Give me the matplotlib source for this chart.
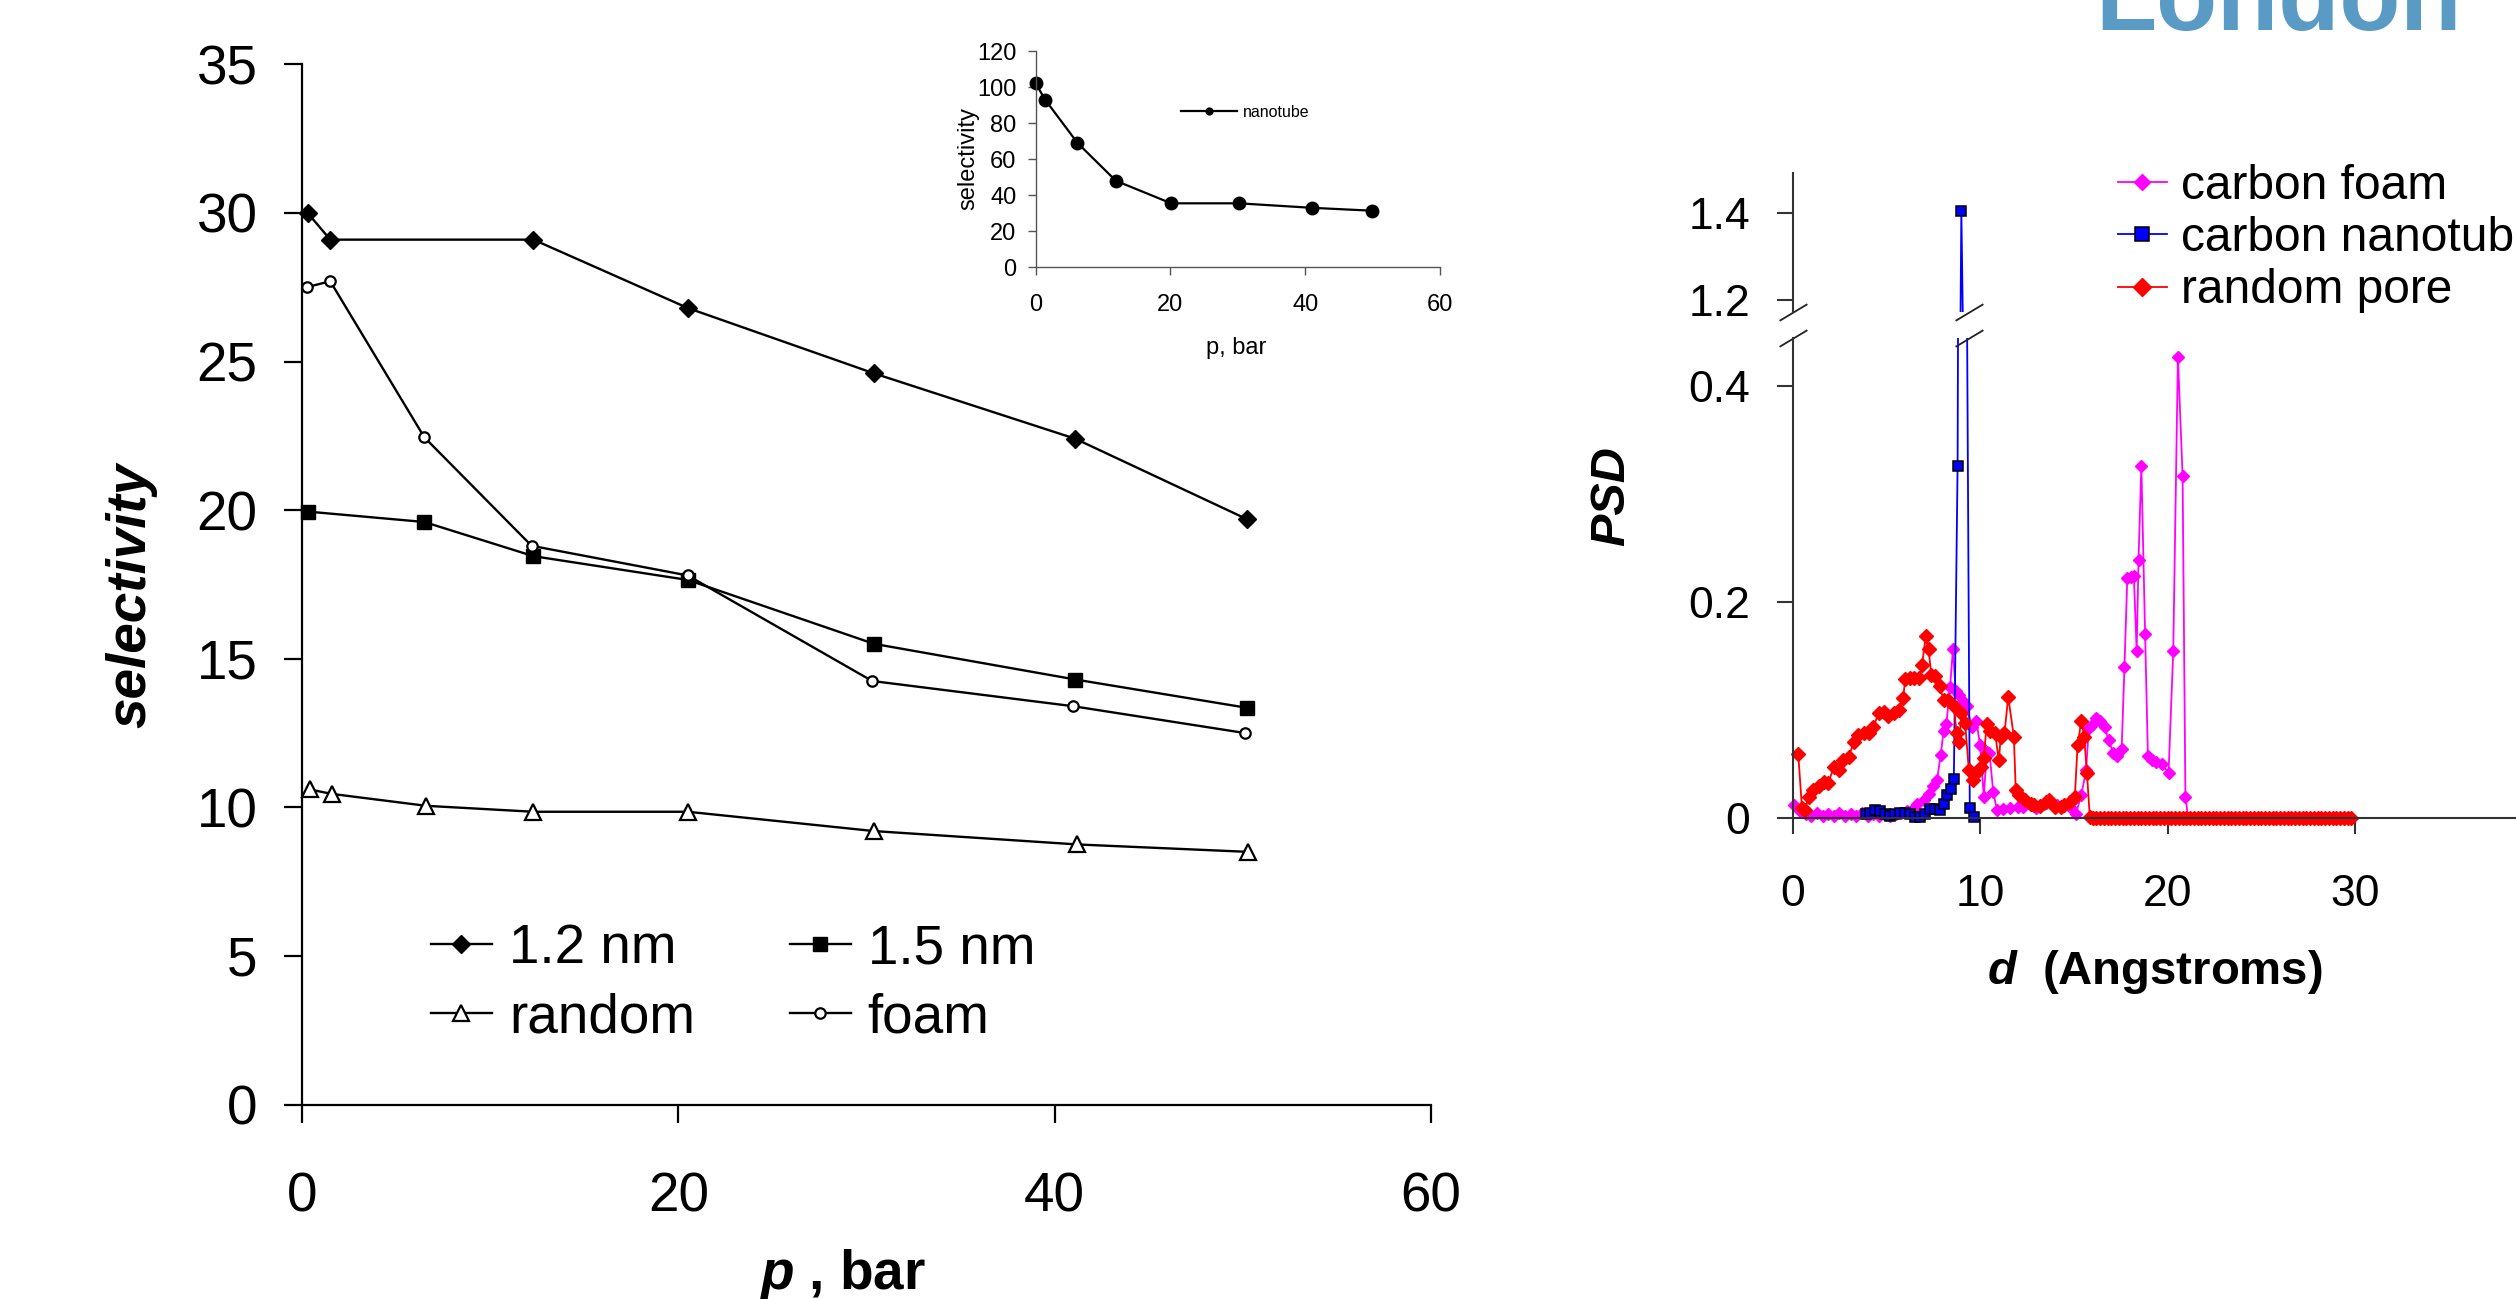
import matplotlib
matplotlib.use('Agg')
import matplotlib.pyplot as plt
from matplotlib.transforms import blended_transform_factory
from matplotlib.patches import Rectangle

plt.rcParams['font.family'] = ['Liberation Sans', 'DejaVu Sans']
plt.rcParams['mathtext.fontset'] = 'custom'
plt.rcParams['mathtext.it'] = 'Liberation Sans:italic:bold'
plt.rcParams['mathtext.rm'] = 'Liberation Sans:bold'
plt.rcParams['mathtext.bf'] = 'Liberation Sans:bold'

# ---------------- data: main selectivity panel ----------------
p_12 = [0.3, 1.5, 12.3, 20.5, 30.4, 41.1, 50.2]
s_12 = [30.0, 29.1, 29.1, 26.8, 24.6, 22.4, 19.7]
p_15 = [0.3, 6.5, 12.3, 20.5, 30.4, 41.1, 50.2]
s_15 = [19.95, 19.6, 18.45, 17.65, 15.5, 14.3, 13.35]
p_rnd = [0.4, 1.6, 6.6, 12.3, 20.5, 30.4, 41.2, 50.3]
s_rnd = [10.6, 10.45, 10.05, 9.85, 9.85, 9.2, 8.75, 8.5]
p_foam = [0.25, 1.5, 6.5, 12.2, 20.5, 30.3, 41.0, 50.1]
s_foam = [27.5, 27.7, 22.45, 18.8, 17.8, 14.25, 13.4, 12.5]
main_labels = ['1.2 nm', '1.5 nm', 'random', 'foam']
main_xticks = [0, 20, 40, 60]
main_yticks = [0, 5, 10, 15, 20, 25, 30, 35]

# ---------------- data: inset (nanotube) ----------------
p_nt = [0.0, 1.4, 6.2, 11.9, 20.1, 30.1, 41.0, 49.9]
s_nt = [102, 93, 69, 48, 35.5, 35.5, 33, 31.4]
inset_xticks = [0, 20, 40, 60]
inset_yticks = [0, 20, 40, 60, 80, 100, 120]

# ---------------- data: PSD panel ----------------
foam_d = [0.1, 0.4, 0.7, 1.0, 1.3, 1.6, 1.9, 2.2, 2.5, 2.8,
          3.1, 3.4, 3.7, 4.0, 4.3, 4.6, 4.9, 5.2, 5.5, 5.8,
          6.1, 6.4, 6.65, 7.0, 7.25, 7.5, 7.7, 7.9, 8.05, 8.2,
          8.4, 8.55, 8.7, 8.9, 9.1, 9.3, 9.55, 9.8, 10.0, 10.2,
          10.35, 10.5, 10.7, 10.9, 11.2, 11.6, 12.0, 12.3, 12.7, 13.0,
          13.4, 13.7, 14.1, 14.4, 14.8, 15.1, 15.4, 15.65, 15.8, 15.95,
          16.2, 16.4, 16.65, 16.85, 17.1, 17.3, 17.55, 17.7, 17.85, 18.05,
          18.2, 18.35, 18.45, 18.6, 18.8, 18.95, 19.15, 19.4, 19.7, 20.05,
          20.3, 20.55, 20.8, 20.95, 21.1]
foam_psd = [0.012, 0.006, 0.003, 0.002, 0.004, 0.002, 0.003, 0.002, 0.004, 0.002,
            0.003, 0.002, 0.004, 0.002, 0.003, 0.002, 0.003, 0.002, 0.003, 0.004,
            0.006, 0.008, 0.013, 0.016, 0.022, 0.029, 0.035, 0.058, 0.080, 0.087,
            0.121, 0.156, 0.117, 0.114, 0.108, 0.103, 0.084, 0.090, 0.067, 0.019,
            0.061, 0.060, 0.024, 0.007, 0.008, 0.009, 0.010, 0.010, 0.012, 0.009,
            0.013, 0.016, 0.012, 0.011, 0.010, 0.003, 0.021, 0.044, 0.083, 0.086,
            0.092, 0.090, 0.084, 0.072, 0.060, 0.057, 0.064, 0.140, 0.222, 0.223,
            0.224, 0.154, 0.239, 0.326, 0.170, 0.057, 0.053, 0.052, 0.050, 0.041,
            0.154, 0.427, 0.316, 0.019, 0.0]

tube_d = [3.9, 4.15, 4.4, 4.65, 4.95, 5.2, 5.45, 5.75, 6.0, 6.25,
          6.55, 6.8, 7.05, 7.35, 7.6, 7.85, 8.05, 8.25, 8.45, 8.6,
          8.8, 9.0, 9.45, 9.65]
tube_psd = [0.003, 0.004, 0.007, 0.006, 0.003, 0.002, 0.003, 0.004, 0.004, 0.003,
            0.001, 0.0005, 0.003, 0.008, 0.008, 0.007, 0.013, 0.021, 0.027, 0.036,
            0.326, 1.406, 0.009, 0.001]

rand_d = [0.3, 0.5, 0.65, 0.85, 1.1, 1.4, 1.65, 1.9, 2.2, 2.45,
          2.7, 3.0, 3.25, 3.5, 3.8, 4.05, 4.3, 4.6, 4.85, 5.1,
          5.4, 5.65, 5.9, 6.0, 6.25, 6.5, 6.75, 6.9, 7.1, 7.25,
          7.4, 7.6, 7.85, 8.05, 8.3, 8.6, 8.75, 8.9, 9.0, 9.2,
          9.4, 9.6, 9.8, 10.05, 10.2, 10.35, 10.55, 10.8, 11.0, 11.1,
          11.3, 11.5, 11.8, 11.9, 12.1, 12.4, 12.7, 12.9, 13.2, 13.5,
          13.7, 14.0, 14.3, 14.5, 14.8, 15.05, 15.2, 15.4, 15.55, 15.7,
          15.85,
          16.0, 16.2, 16.4, 16.6, 16.8, 17.0, 17.2, 17.4, 17.6, 17.8,
          18.0, 18.2, 18.4, 18.6, 18.8, 19.0, 19.2, 19.4, 19.6, 19.8,
          20.0, 20.2, 20.4, 20.6, 20.8, 21.0, 21.2, 21.4, 21.6, 21.8,
          22.0, 22.2, 22.4, 22.6, 22.8, 23.0, 23.2, 23.4, 23.6, 23.8,
          24.0, 24.2, 24.4, 24.6, 24.8, 25.0, 25.2, 25.4, 25.6, 25.8,
          26.0, 26.2, 26.4, 26.6, 26.8, 27.0, 27.2, 27.4, 27.6, 27.8,
          28.0, 28.2, 28.4, 28.6, 28.8, 29.0, 29.2, 29.4, 29.6, 29.8]
rand_psd = [0.059, 0.009, 0.007, 0.019, 0.026, 0.029, 0.033, 0.032, 0.047, 0.044,
            0.053, 0.056, 0.070, 0.077, 0.078, 0.078, 0.084, 0.097, 0.098, 0.094,
            0.097, 0.100, 0.111, 0.128, 0.129, 0.129, 0.129, 0.141, 0.168, 0.156,
            0.132, 0.131, 0.122, 0.109, 0.109, 0.103, 0.078, 0.070, 0.097, 0.088,
            0.044, 0.035, 0.041, 0.047, 0.055, 0.087, 0.080, 0.078, 0.053, 0.075,
            0.078, 0.112, 0.075, 0.026, 0.021, 0.016, 0.013, 0.012, 0.011, 0.015,
            0.016, 0.010, 0.010, 0.012, 0.015, 0.019, 0.067, 0.090, 0.075, 0.041,
            0.001,
            0, 0, 0, 0, 0, 0, 0, 0, 0, 0,
            0, 0, 0, 0, 0, 0, 0, 0, 0, 0,
            0, 0, 0, 0, 0, 0, 0, 0, 0, 0,
            0, 0, 0, 0, 0, 0, 0, 0, 0, 0,
            0, 0, 0, 0, 0, 0, 0, 0, 0, 0,
            0, 0, 0, 0, 0, 0, 0, 0, 0, 0,
            0, 0, 0, 0, 0, 0, 0, 0, 0, 0]
psd_labels = ['carbon foam', 'carbon nanotube', 'random pore']
psd_xticks = [0, 10, 20, 30, 40]
psd_low_ticks = [0, 0.2, 0.4]
psd_up_ticks = [1.2, 1.4]

# ---------------- figure ----------------
W, H, DPI = 2516, 1299, 100
fig = plt.figure(figsize=(W / DPI, H / DPI), dpi=DPI)


def fx(px):
    return px / W


def fy(py):
    return 1 - py / H


def rect(l, t, r, b):
    return [fx(l), fy(b), (r - l) / W, (b - t) / H]


FS_MAIN = 39.5

# ---------------- main panel ----------------
ax = fig.add_axes(rect(302, 64.3, 1431, 1104.5))
ax.set_xlim(0, 60)
ax.set_ylim(0, 35)
ax.set_xticks(main_xticks)
ax.set_yticks(main_yticks)
for s in ['top', 'right']:
    ax.spines[s].set_visible(False)
for s in ['left', 'bottom']:
    ax.spines[s].set_linewidth(1.6)
ax.tick_params(direction='out', length=13, width=1.6, labelsize=FS_MAIN, pad=19)
ax.tick_params(axis='x', pad=35)

l12, = ax.plot(p_12, s_12, color='k', lw=1.7, marker='D', ms=9.5, mfc='k', mec='k',
               clip_on=False, label=main_labels[0])
l15, = ax.plot(p_15, s_15, color='k', lw=1.7, marker='s', ms=9.5, mfc='k', mec='k',
               clip_on=False, label=main_labels[1])
lrn, = ax.plot(p_rnd, s_rnd, color='k', lw=1.7, marker='^', ms=11, mfc='white', mec='k',
               mew=1.6, clip_on=False, label=main_labels[2])
lfo, = ax.plot(p_foam, s_foam, color='k', lw=1.7, marker='o', ms=7.5, mfc='white', mec='k',
               mew=1.6, clip_on=False, label=main_labels[3])

fig.legend([l12, lrn, l15, lfo], [main_labels[0], main_labels[2], main_labels[1], main_labels[3]],
           ncol=2, fontsize=FS_MAIN, frameon=False, handlelength=1.11, handletextpad=0.31,
           columnspacing=1.73, labelspacing=0.31, borderpad=0, borderaxespad=0,
           loc='upper left', bbox_to_anchor=(fx(431), fy(923)), bbox_transform=fig.transFigure)

fig.text(fx(131.6), fy(595), 'selectivity', rotation=90, ha='center', va='center',
         fontsize=FS_MAIN, fontweight='bold', fontstyle='italic')
fig.text(fx(842.6), fy(1289.3), r'$p$ , bar', ha='center', va='baseline',
         fontsize=FS_MAIN, fontweight='bold')

# ---------------- inset ----------------
ai = fig.add_axes(rect(1035.7, 51, 1440, 267.3))
ai.set_xlim(0, 60)
ai.set_ylim(0, 120)
ai.set_xticks(inset_xticks)
ai.set_yticks(inset_yticks)
for s in ['top', 'right']:
    ai.spines[s].set_visible(False)
for s in ['left', 'bottom']:
    ai.spines[s].set_linewidth(1.0)
    ai.spines[s].set_color('#555555')
ai.tick_params(direction='out', length=6, width=1.0, color='#555555', labelsize=17, pad=8)
ai.tick_params(axis='x', pad=13)
lnt, = ai.plot(p_nt, s_nt, color='k', lw=1.6, marker='o', ms=9, mfc='k', mec='k',
               clip_on=False, label='nanotube')
ai.legend(handles=[lnt], fontsize=11.5, frameon=False, handlelength=3.5, handletextpad=0.35,
          markerscale=0.55, borderpad=0, borderaxespad=0, loc='upper left',
          bbox_to_anchor=(fx(1181), fy(105)), bbox_transform=fig.transFigure)
fig.text(fx(967.9), fy(159), 'selectivity', rotation=90, ha='center', va='center', fontsize=17)
fig.text(fx(1236), fy(348), 'p, bar', ha='center', va='center', fontsize=17)

# ---------------- PSD panel (broken y axis) ----------------
X0, X40 = 1792.6, 1792.6 + 750
axl = fig.add_axes(rect(X0, 338.3, X40, 817.7))
axu = fig.add_axes(rect(X0, 173.3, X40, 311.7))
spc = '#333333'
for a in (axl, axu):
    a.set_xlim(0, 40)
    a.patch.set_alpha(0)
    for s in ['top', 'right']:
        a.spines[s].set_visible(False)
    for s in ['left', 'bottom']:
        a.spines[s].set_linewidth(1.5)
        a.spines[s].set_color(spc)
    a.tick_params(direction='out', length=11.5, width=1.5, color=spc, labelsize=32, pad=19)
axl.set_ylim(0, 0.4439)
axu.set_ylim(1.173, 1.492)
axl.set_xticks(psd_xticks)
axl.set_yticks(psd_low_ticks)
axl.set_yticklabels(['0', '0.2', '0.4'])
axl.tick_params(axis='x', pad=29)
axu.set_yticks(psd_up_ticks)
axu.spines['bottom'].set_visible(False)
axu.set_xticks([])

series = [
    (foam_d, foam_psd, dict(color='#FF00FF', marker='D', ms=6.4, mfc='#FF00FF', mec='#FF00FF')),
    (tube_d, tube_psd, dict(color='#0000FF', marker='s', ms=7, mfc='#0000FF', mec='#000000', mew=1.1)),
    (rand_d, rand_psd, dict(color='#FF0000', marker='D', ms=6.8, mfc='#FF0000', mec='#FF0000')),
]
handles = []
for d, v, st in series:
    ln, = axl.plot(d, v, lw=1.3, **st)
    ln.set_clip_path(Rectangle((-0.1, -0.2), 1.3, 1.2, transform=axl.transAxes))
    handles.append(ln)
    axu.plot(d, v, lw=1.3, **st)

fig.legend(handles, psd_labels, fontsize=34.5, frameon=False, handlelength=1.02,
           handletextpad=0.29, labelspacing=0.15, borderpad=0, borderaxespad=0,
           markerscale=1.35, loc='upper left', bbox_to_anchor=(fx(2118), fy(164)),
           bbox_transform=fig.transFigure)

# axis-break marks on the y axis and on the nanotube peak line
break_x = [0, 9.4]
slash = [(-1, -0.6), (1, 0.6)]
for a, yfrac in ((axu, 0.0), (axl, 1.0)):
    tr = blended_transform_factory(a.transData, a.transAxes)
    a.plot(break_x, [yfrac] * len(break_x), transform=tr, ls='none', marker=slash, ms=20,
           mfc='none', mec='#222222', mew=1.3, clip_on=False)

fig.text(fx(1611.7), fy(495.8), 'PSD', rotation=90, ha='center', va='center',
         fontsize=35, fontweight='bold', fontstyle='italic')
fig.text(fx(2154.5), fy(984), r'$d$  (Angstroms)', ha='center', va='baseline',
         fontsize=34, fontweight='bold')

# cropped logo text at top right
fig.text(fx(2095), fy(30), 'London', fontsize=72, fontweight='bold', color='#5A9BC5',
         ha='left', va='baseline')

fig.savefig('out.png', dpi=DPI)
